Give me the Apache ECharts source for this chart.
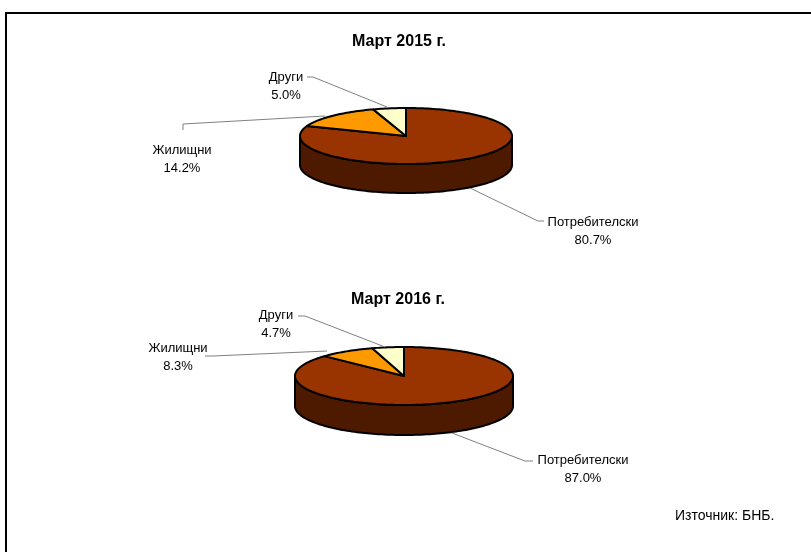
<!DOCTYPE html>
<html>
<head>
<meta charset="utf-8">
<style>
  html, body { margin: 0; padding: 0; background: #fff; }
  #chart { width: 811px; height: 552px; }
</style>
<script src="https://cdn.jsdelivr.net/npm/echarts@6/dist/echarts.min.js"></script>
</head>
<body>
<div id="chart"></div>
<script>
var categories = ['Потребителски', 'Жилищни', 'Други'];
var values2015 = [80.7, 14.2, 5.0];
var values2016 = [87.0, 8.3, 4.7];
var titles = ['Март 2015 г.', 'Март 2016 г.'];
var sourceText = 'Източник: БНБ.';

var topColors = ['#993300', '#ff9900', '#ffffcc'];
var sideColor = '#4d1a00';
var FONT = 'Arial, "Liberation Sans", sans-serif';

// pie placement, tilted ellipse + wall depth
var pie2015 = { cx: 406, cy: 136, rx: 106, ry: 28, depth: 29,
  labels: [[593, 213], [182, 141], [286, 68]],
  leaders: [
    [[470, 188], [538, 221], [544, 221]],
    [[325, 116], [183, 124], [183, 130]],
    [[387, 107], [313, 77], [307, 77]]
  ] };
var pie2016 = { cx: 404, cy: 376, rx: 109, ry: 29, depth: 30,
  labels: [[583, 451], [178, 339], [276, 306]],
  leaders: [
    [[452, 433], [525, 461], [533, 461]],
    [[327, 351], [213, 356], [205, 356]],
    [[385, 347], [305, 316], [298, 316]]
  ] };

// clockwise from 12 o'clock, fraction 0..1 -> point on ellipse
function ellipsePoint(p, frac, dy) {
  var a = frac * Math.PI * 2;
  return [p.cx + p.rx * Math.sin(a), p.cy - p.ry * Math.cos(a) + (dy || 0)];
}

function arcPoints(p, from, to, dy) {
  var pts = [];
  var n = Math.max(2, Math.ceil((to - from) * 240));
  for (var i = 0; i <= n; i++) {
    pts.push(ellipsePoint(p, from + (to - from) * i / n, dy));
  }
  return pts;
}

function pieElements(p, values, dataIndex) {
  var total = values.reduce(function (s, v) { return s + v; }, 0);
  var start = 0;
  for (var i = 0; i < dataIndex; i++) start += values[i] / total;
  var end = start + values[dataIndex] / total;
  var stroke = { stroke: '#000', lineWidth: 2, lineJoin: 'round' };
  var children = [];

  // wall, only the part of the slice on the front half (0.25..0.75)
  var wallFrom = Math.max(start, 0.25), wallTo = Math.min(end, 0.75);
  if (wallTo > wallFrom) {
    var wall = arcPoints(p, wallFrom, wallTo, 0).concat(arcPoints(p, wallFrom, wallTo, p.depth).reverse());
    children.push({ type: 'polygon', z2: 1, shape: { points: wall },
      style: Object.assign({ fill: sideColor }, stroke) });
  }

  var top = [[p.cx, p.cy]].concat(arcPoints(p, start, end, 0));
  children.push({ type: 'polygon', z2: 2 + dataIndex, shape: { points: top },
    style: Object.assign({ fill: topColors[dataIndex] }, stroke) });

  children.push({ type: 'polyline', z2: 10, shape: { points: p.leaders[dataIndex] },
    style: { fill: null, stroke: '#808080', lineWidth: 1 } });

  children.push({ type: 'text', z2: 11, x: p.labels[dataIndex][0], y: p.labels[dataIndex][1],
    style: {
      text: categories[dataIndex] + '\n' + values[dataIndex].toFixed(1) + '%',
      font: '13px ' + FONT, fill: '#000', align: 'center', verticalAlign: 'top', lineHeight: 18
    } });

  return { type: 'group', children: children };
}

function pieSeries(p, values) {
  return {
    type: 'custom',
    coordinateSystem: 'none',
    silent: true,
    data: values,
    renderItem: function (params) {
      return pieElements(p, values, params.dataIndex);
    }
  };
}

var option = {
  animation: false,
  backgroundColor: '#fff',
  title: [
    { text: titles[0], left: 394, top: 29, textAlign: 'center',
      textStyle: { fontFamily: FONT, fontSize: 16, fontWeight: 'bold', color: '#000' } },
    { text: titles[1], left: 393, top: 287, textAlign: 'center',
      textStyle: { fontFamily: FONT, fontSize: 16, fontWeight: 'bold', color: '#000' } },
    { text: sourceText, left: 670, top: 504,
      textStyle: { fontFamily: FONT, fontSize: 14, fontWeight: 'normal', color: '#000' } }
  ],
  graphic: [
    { type: 'polyline', silent: true, shape: { points: [[6, 552], [6, 13], [811, 13]] },
      style: { fill: null, stroke: '#000', lineWidth: 2 } }
  ],
  series: [pieSeries(pie2015, values2015), pieSeries(pie2016, values2016)]
};

var chart = echarts.init(document.getElementById('chart'), null, { renderer: 'canvas' });
chart.setOption(option);
</script>
</body>
</html>
